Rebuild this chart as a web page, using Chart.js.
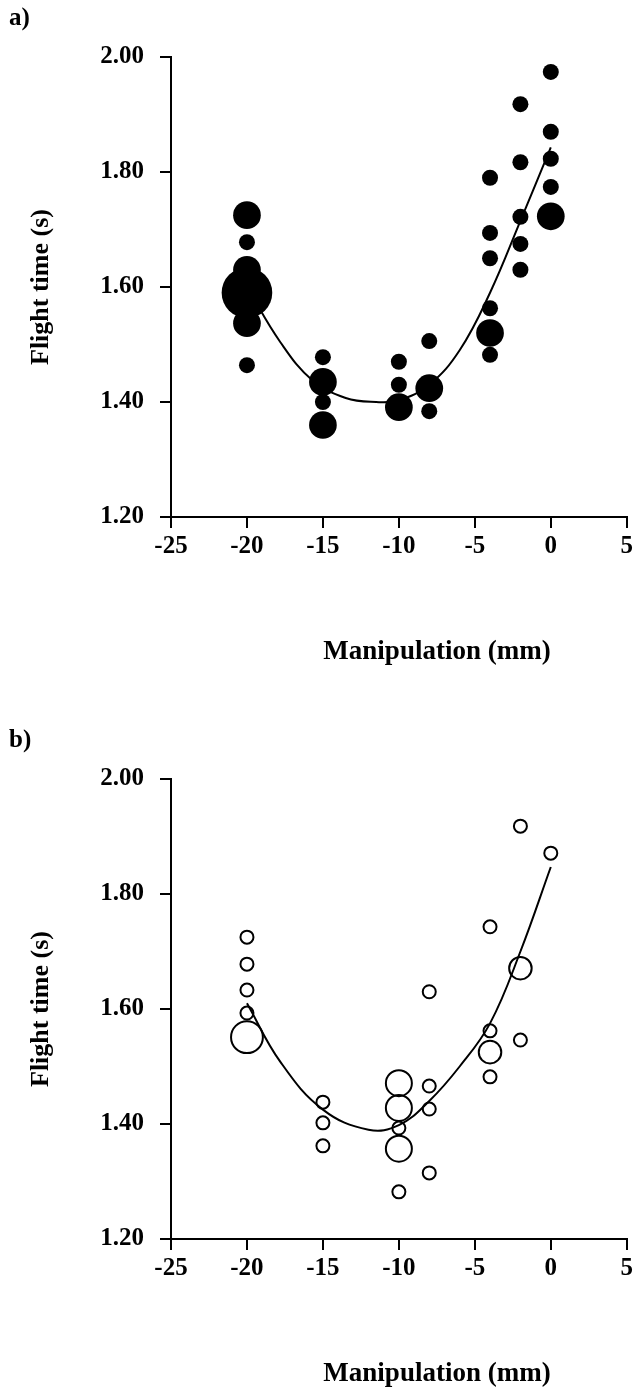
<!DOCTYPE html>
<html>
<head>
<meta charset="utf-8">
<title>Flight time vs manipulation</title>
<script src="https://cdn.jsdelivr.net/npm/chart.js@4.4.1/dist/chart.umd.min.js"></script>
<style>
  html, body { margin: 0; padding: 0; background: #fff; }
  .panel { position: absolute; left: 0; width: 637px; height: 666px; }
  #panelA { top: 0; }
  #panelB { top: 722px; }
</style>
</head>
<body>
<div class="panel" id="panelA"><canvas id="chartA" width="637" height="666"></canvas></div>
<div class="panel" id="panelB"><canvas id="chartB" width="637" height="666"></canvas></div>
<script>
// osie
const manipulationTicks = [-25, -20, -15, -10, -5, 0, 5];
const flightTimeTicks = [1.20, 1.40, 1.60, 1.80, 2.00];

// a) pelne kola
const aManipulation = [-20, -20, -20, -20, -20, -20, -15, -15, -15, -15, -10, -10, -10, -8, -8, -8, -4, -4, -4, -4, -4, -4, -2, -2, -2, -2, -2, 0, 0, 0, 0, 0];
const aFlightTime = [1.725, 1.678, 1.630, 1.590, 1.537, 1.464, 1.478, 1.435, 1.400, 1.360, 1.470, 1.430, 1.391, 1.506, 1.424, 1.384, 1.790, 1.694, 1.650, 1.563, 1.520, 1.482, 1.918, 1.817, 1.722, 1.675, 1.630, 1.974, 1.870, 1.823, 1.774, 1.723];
const aCount = [3, 1, 3, 10, 3, 1, 1, 3, 1, 3, 1, 1, 3, 1, 3, 1, 1, 1, 1, 1, 3, 1, 1, 1, 1, 1, 1, 1, 1, 1, 1, 3];
const aFitX = [-20, -17.8, -15.7, -13.5, -11.5, -10, -8, -6, -4, -2, 0];
const aFitY = [1.60, 1.504, 1.438, 1.407, 1.400, 1.403, 1.430, 1.49, 1.59, 1.715, 1.843];

// b) puste kola
const bManipulation = [-20, -20, -20, -20, -20, -15, -15, -15, -10, -10, -10, -10, -10, -8, -8, -8, -8, -4, -4, -4, -4, -2, -2, -2, 0];
const bFlightTime = [1.725, 1.678, 1.633, 1.593, 1.551, 1.438, 1.402, 1.362, 1.471, 1.428, 1.393, 1.357, 1.282, 1.630, 1.466, 1.426, 1.315, 1.743, 1.562, 1.525, 1.482, 1.918, 1.671, 1.546, 1.871];
const bCount = [1, 1, 1, 1, 6, 1, 1, 1, 4, 4, 1, 4, 1, 1, 1, 1, 1, 1, 1, 3, 1, 1, 3, 1, 1];
const bFitX = [-20, -17.8, -15, -12, -10, -8, -6, -4, -2, 0];
const bFitY = [1.61, 1.508, 1.425, 1.39, 1.398, 1.44, 1.50, 1.575, 1.70, 1.847];

const serif = '"Liberation Serif", "Times New Roman", serif';

// napisy: tytul osi x i litera panelu
const extraText = {
  id: 'extraText',
  afterDraw(chart, args, opts) {
    const ctx = chart.ctx;
    const area = chart.chartArea;
    ctx.save();
    ctx.fillStyle = '#000';
    ctx.textBaseline = 'middle';
    ctx.textAlign = 'center';
    ctx.font = 'bold 27px ' + serif;
    ctx.fillText('Manipulation (mm)', area.left + 266, area.bottom + 135);
    ctx.textAlign = 'left';
    ctx.font = 'bold 25px ' + serif;
    ctx.fillText(opts.letter, 9, 19);
    ctx.restore();
  }
};

function makePanel(canvasId, letter, xs, ys, counts, fitX, fitY, filled, unitRadius) {
  const bubbles = xs.map(function (x, i) {
    return { x: x, y: ys[i], r: unitRadius * Math.sqrt(counts[i]) };
  });
  const fit = fitX.map(function (x, i) {
    return { x: x, y: fitY[i] };
  });

  return new Chart(document.getElementById(canvasId), {
    type: 'bubble',
    data: {
      datasets: [{
        type: 'line',
        data: fit,
        borderColor: '#000',
        borderWidth: 2,
        pointRadius: 0,
        tension: 0.4,
        fill: false,
      },
      {
        data: bubbles,
        backgroundColor: filled ? '#000' : 'rgba(255,255,255,0)',
        borderColor: '#000',
        borderWidth: filled ? 0 : 2,
        clip: false,
      }]
    },
    options: {
      responsive: false,
      animation: false,
      events: [],
      layout: {
        autoPadding: false,
        padding: { top: 57, left: 0, right: 8, bottom: 0 }
      },
      plugins: {
        legend: { display: false },
        tooltip: { enabled: false },
        extraText: { letter: letter }
      },
      scales: {
        x: {
          type: 'linear',
          min: -25,
          max: 5,
          afterBuildTicks: function (scale) {
            scale.ticks = manipulationTicks.map(function (v) { return { value: v }; });
          },
          afterFit: function (scale) { scale.height = 149; },
          border: { display: true, color: '#000', width: 2 },
          grid: { drawOnChartArea: false, drawTicks: true, tickLength: 11, color: '#000', lineWidth: 2 },
          ticks: {
            color: '#000',
            padding: 4,
            maxRotation: 0,
            font: { family: serif, size: 25, weight: 'bold' },
            callback: function (v) { return String(v); }
          }
        },
        y: {
          type: 'linear',
          min: 1.2,
          max: 2.0,
          afterBuildTicks: function (scale) {
            scale.ticks = flightTimeTicks.map(function (v) { return { value: v }; });
          },
          afterFit: function (scale) { scale.width = 171; },
          border: { display: true, color: '#000', width: 2 },
          grid: { drawOnChartArea: false, drawTicks: true, tickLength: 11, color: '#000', lineWidth: 2 },
          ticks: {
            color: '#000',
            padding: 16,
            font: { family: serif, size: 25, weight: 'bold' },
            callback: function (v) { return Number(v).toFixed(2); }
          },
          title: {
            display: true,
            text: 'Flight time (s)',
            color: '#000',
            font: { family: serif, size: 26, weight: 'bold' },
            padding: { top: 26, bottom: 0 }
          }
        }
      }
    },
    plugins: [extraText]
  });
}

const chartA = makePanel('chartA', 'a)', aManipulation, aFlightTime, aCount, aFitX, aFitY, true, 8);
const chartB = makePanel('chartB', 'b)', bManipulation, bFlightTime, bCount, bFitX, bFitY, false, 6.5);
</script>
</body>
</html>
